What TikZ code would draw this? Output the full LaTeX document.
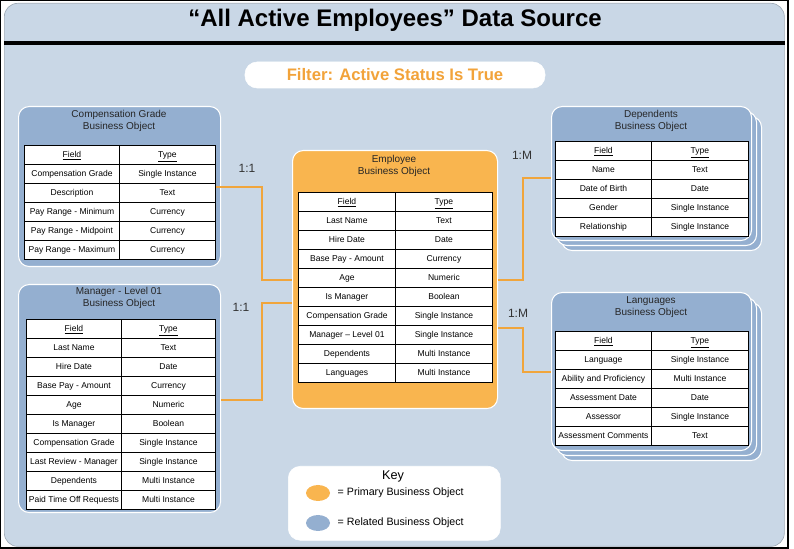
\documentclass[tikz,border=0pt]{standalone}
\usepackage{fontspec}
\usetikzlibrary{shapes.geometric}
\setmainfont{Liberation Sans}
\definecolor{bg}{HTML}{C9D7E6}
\definecolor{blu}{HTML}{94AFD0}
\definecolor{org}{HTML}{F9B54F}
\definecolor{orgt}{HTML}{F2A33A}
\definecolor{lin}{HTML}{F0A53C}
\tikzset{
 cell/.style={draw=black, line width=0.7pt, fill=white, minimum height=14.25pt, inner sep=0pt, text height=5pt, text depth=1.5pt, anchor=north west, font=\fontsize{6.4}{7}\selectfont},
 bobox/.style={draw=white, line width=0.8pt, fill=blu, rounded corners=8pt, anchor=north west, inner sep=0pt},
 ttl/.style={font=\fontsize{7.5}{9}\selectfont, align=center, text=black!85},
 conn/.style={draw=lin, line width=1.2pt},
 lbl/.style={font=\fontsize{9}{10}\selectfont, text=black!80},
}
\newcommand\mktbl[6]{%
 \foreach \f/\t [count=\i from 0] in {#6} {
  \pgfmathsetmacro\ya{#5+19*\i}
  \node[cell, minimum width={(#3-#2)*0.75pt}] (#1f\i) at (#2,\ya) {\f};
  \node[cell, minimum width={(#4-#3)*0.75pt}] (#1t\i) at (#3,\ya) {\t};
 }}
\newcommand\mkbox[7]{% name x y w h color shadows
 \ifnum#7>0
 \node[bobox, fill=#6, minimum width={#4*0.75pt}, minimum height={#5*0.75pt}] (#1s2) at (#2+10,#3+10) {};
 \node[bobox, fill=#6, minimum width={#4*0.75pt}, minimum height={#5*0.75pt}] (#1s1) at (#2+5,#3+5) {};
 \fi
 \node[bobox, fill=#6, minimum width={#4*0.75pt}, minimum height={#5*0.75pt}] (#1) at (#2,#3) {};}
\begin{document}
\begin{tikzpicture}[x=0.75pt,y=-0.75pt]
\useasboundingbox (0,0) rectangle (794,549);
\draw[line width=1pt, fill=white] (0.7,0.7) rectangle (788,548);
\node[draw=bg!80!black, line width=0.5pt, fill=bg, rounded corners=10pt, minimum width={780*0.75pt}, minimum height={543*0.75pt}, anchor=north west, inner sep=0pt] (panel) at (4,3) {};
\node[font=\bfseries\fontsize{18}{20}\selectfont] (title) at (395,20) {“All Active Employees” Data Source};
\draw[line width=2.4pt] (4,43) -- (785,43);
\node[draw=white, fill=white, rounded corners=9pt, minimum width={300*0.75pt}, minimum height={26*0.75pt}, inner sep=0pt, font=\bfseries\fontsize{12.5}{14}\selectfont, text=orgt] (filter) at (395,75) {Filter: Active Status Is True};
% boxes
\mkbox{comp}{18}{106}{202}{160}{blu}{0}
\mkbox{mgr}{18}{284}{202}{228}{blu}{0}
\mkbox{emp}{292}{150}{205}{258}{org}{0}
\mkbox{dep}{551}{106}{200}{134}{blu}{1}
\mkbox{lang}{551}{292}{200}{158}{blu}{1}
\node[ttl] (compt) at (119,121) {Compensation Grade\\Business Object};
\node[ttl] (mgrt) at (119,298) {Manager - Level 01\\Business Object};
\node[ttl] (empt) at (394,166) {Employee\\Business Object};
\node[ttl] (dept) at (651,121) {Dependents\\Business Object};
\node[ttl] (langt) at (651,307) {Languages\\Business Object};
\mktbl{c}{24}{119}{215}{145}{\underline{Field}/\underline{Type},Compensation Grade/Single Instance,Description/Text,Pay Range - Minimum/Currency,Pay Range - Midpoint/Currency,Pay Range - Maximum/Currency}
\mktbl{m}{26}{121}{215}{319}{\underline{Field}/\underline{Type},Last Name/Text,Hire Date/Date,Base Pay - Amount/Currency,Age/Numeric,Is Manager/Boolean,Compensation Grade/Single Instance,Last Review - Manager/Single Instance,Dependents/Multi Instance,Paid Time Off Requests/Multi Instance}
\mktbl{e}{298}{395}{492}{192}{\underline{Field}/\underline{Type},Last Name/Text,Hire Date/Date,Base Pay - Amount/Currency,Age/Numeric,Is Manager/Boolean,Compensation Grade/Single Instance,Manager – Level 01/Single Instance,Dependents/Multi Instance,Languages/Multi Instance}
\mktbl{d}{555}{651}{748}{141}{\underline{Field}/\underline{Type},Name/Text,Date of Birth/Date,Gender/Single Instance,Relationship/Single Instance}
\mktbl{l}{555}{651}{748}{331}{\underline{Field}/\underline{Type},Language/Single Instance,Ability and Proficiency/Multi Instance,Assessment Date/Date,Assessor/Single Instance,Assessment Comments/Text}
% connectors
\coordinate (k1) at (262,187); \coordinate (k2) at (262,280);
\draw[conn] (ct1.east |- k1) -- (k1) -- (k2) -- (emp.west |- k2);
\coordinate (k3) at (262,400); \coordinate (k4) at (262,303);
\draw[conn] (mgr.east |- k3) -- (k3) -- (k4) -- (emp.west |- k4);
\coordinate (k5) at (523,280); \coordinate (k6) at (523,178);
\draw[conn] (emp.east |- k5) -- (k5) -- (k6) -- (dep.west |- k6);
\coordinate (k7) at (523,328); \coordinate (k8) at (523,372);
\draw[conn] (emp.east |- k7) -- (k7) -- (k8) -- (lang.west |- k8);
\node[lbl] (l1) at (247,168) {1:1};
\node[lbl] (l2) at (241,307) {1:1};
\node[lbl] (l3) at (522,155) {1:M};
\node[lbl] (l4) at (518,313) {1:M};
% key
\node[draw=white, fill=white, rounded corners=9pt, minimum width={212*0.75pt}, minimum height={74*0.75pt}, anchor=north west, inner sep=0pt] (key) at (288,466) {};
\node[font=\fontsize{9.5}{10}\selectfont] (keyt) at (393,476) {Key};
\node[ellipse, fill=org, minimum width=18pt, minimum height=12pt, inner sep=0pt] (ko) at (318,493) {};
\node[ellipse, fill=blu, minimum width=18pt, minimum height=12pt, inner sep=0pt] (kb) at (318,523) {};
\node[anchor=west, font=\fontsize{8}{9}\selectfont] (kot) at (333,493) {= Primary Business Object};
\node[anchor=west, font=\fontsize{8}{9}\selectfont] (kbt) at (333,523) {= Related Business Object};
\end{tikzpicture}
\end{document}
